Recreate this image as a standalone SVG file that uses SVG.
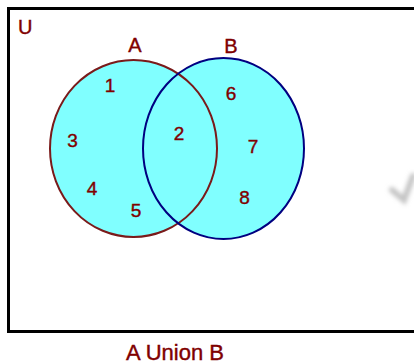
<svg xmlns="http://www.w3.org/2000/svg" width="414" height="364" viewBox="0 0 414 364">
<defs>
<style>
.t{font-family:"Liberation Sans",Arial,sans-serif;fill:#800000;stroke:#800000;stroke-width:0.4;}
.num{font-size:19px;}
.lbl{font-size:20px;}
.fill{fill:#80ffff;stroke:none;}
</style>
<filter id="blur" x="-50%" y="-50%" width="200%" height="200%"><feGaussianBlur stdDeviation="2"/></filter>
</defs>
<rect width="414" height="364" fill="#ffffff"/>
<rect id="universe" x="8.5" y="8.5" width="420" height="323" fill="none" stroke="#000" stroke-width="3"/>
<g id="fills">
<ellipse class="fill" cx="133.5" cy="148.5" rx="83.5" ry="88.5"/>
<ellipse class="fill" cx="223.5" cy="148.5" rx="80.5" ry="90.5"/>
</g>
<g id="setA">
<ellipse cx="133.5" cy="148.5" rx="83.5" ry="88.5" fill="none" stroke="#7a1a1a" stroke-width="2"/>
<text class="t lbl" x="135" y="52" text-anchor="middle">A</text>
</g>
<g id="setB">
<ellipse cx="223.5" cy="148.5" rx="80.5" ry="90.5" fill="none" stroke="#000080" stroke-width="2"/>
<text class="t lbl" x="231" y="53" text-anchor="middle">B</text>
</g>
<g id="connectors"></g>
<g id="labels">
<text class="t lbl" x="18" y="34">U</text>
<text class="t num" x="110" y="92" text-anchor="middle">1</text>
<text class="t num" x="179" y="140" text-anchor="middle">2</text>
<text class="t num" x="72.5" y="147" text-anchor="middle">3</text>
<text class="t num" x="92" y="195" text-anchor="middle">4</text>
<text class="t num" x="136" y="217" text-anchor="middle">5</text>
<text class="t num" x="231" y="100" text-anchor="middle">6</text>
<text class="t num" x="253" y="153" text-anchor="middle">7</text>
<text class="t num" x="244.5" y="204" text-anchor="middle">8</text>
<text class="t" x="175" y="360" font-size="22" text-anchor="middle">A Union B</text>
</g>
<path d="M392,190 L404,200 L413,176" fill="none" stroke="#c4c4c4" stroke-width="6" stroke-linecap="round" filter="url(#blur)"/>
</svg>
